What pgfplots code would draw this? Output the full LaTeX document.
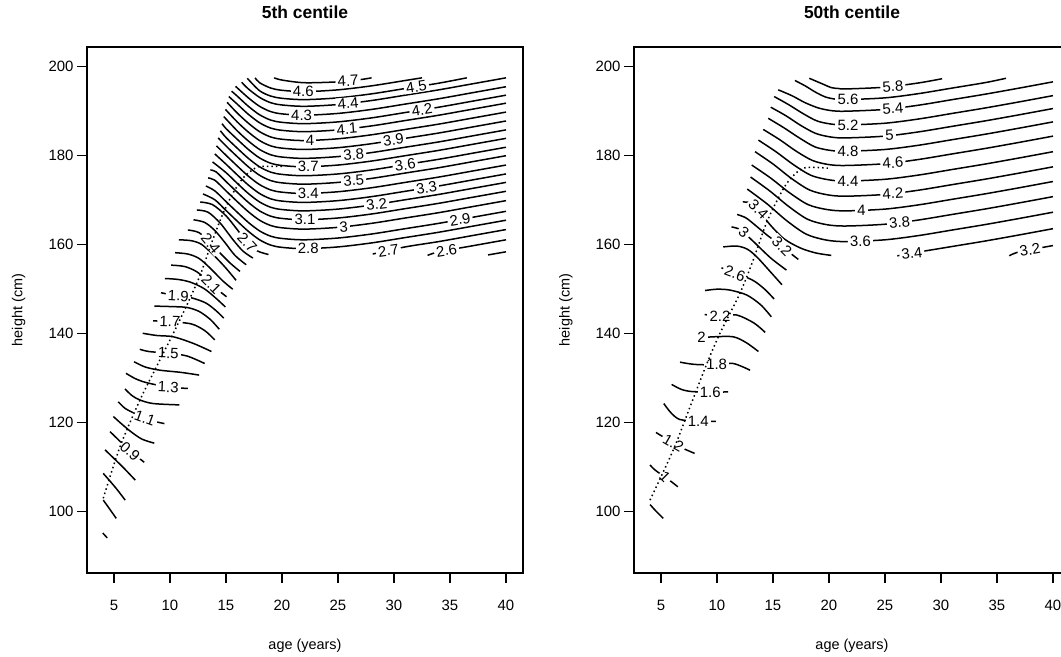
\documentclass[border=0pt]{standalone}
\usepackage{fontspec}
\setmainfont{Liberation Sans}
\usepackage{pgfplots}
\pgfplotsset{compat=1.18}

\pgfplotsset{
  centile/.style={
    scale only axis, width=436bp, height=526bp,
    xmin=2.59, xmax=41.52, ymin=86.22, ymax=204.43,
    xtick={5,10,15,20,25,30,35,40},
    ytick={100,120,140,160,180,200},
    xtick pos=bottom, ytick pos=left,
    tick align=outside,
    major tick length=10bp,
    tick style={black, line width=1.2bp},
    axis line style={line width=1.5bp},
    /pgf/number format/assume math mode=true,
    ticklabel style={font=\fontsize{15}{17}\selectfont},
    xticklabel style={yshift=-14bp},
    title style={at={(axis description cs:0.5,1.0551)}, anchor=center,
      font=\fontsize{17.5}{20}\selectfont\bfseries},
    xlabel={age (years)},
    ylabel={height (cm)},
    xlabel style={at={(axis description cs:0.5,-0.139)}, anchor=center,
      font=\fontsize{14.5}{16}\selectfont},
    ylabel style={at={(axis description cs:-0.157,0.5)}, anchor=center,
      font=\fontsize{14.5}{16}\selectfont},
  },
  cl/.style={black, line width=1.5bp, smooth, tension=0.5},
  dl/.style={black, line width=1.5bp, dash pattern=on 1.5bp off 3bp},
}
\tikzset{clab/.style={font=\fontsize{15}{15}\selectfont, fill=white,
  inner xsep=2.2bp, inner ysep=0.6bp}}
% contour label: x, y, angle, text
\newcommand\clabel[4]{\node[clab, rotate=#3] at (axis cs:#1,#2) {#4};}

\begin{document}
\begin{tikzpicture}
\useasboundingbox (0,0) rectangle (1061bp,657bp);
\clip (0,0) rectangle (1061bp,657bp);

%% ---------------- 5th centile ----------------
\begin{axis}[centile, at={(87bp,84bp)}, anchor=south west, title={5th centile}]
% growth band
\addplot[cl] coordinates {(4.0,95.2) (4.4,94.1)};
\addplot[cl] coordinates {(4.04,102.6) (4.5,101.0) (5.2,98.5)};
\addplot[cl] coordinates {(4.04,108.6) (4.6,107.0) (5.3,104.9) (6.0,102.6)};
\addplot[cl] coordinates {(4.2,113.9) (4.9,112.2) (5.8,110.0) (6.9,107.1)};
\addplot[cl] coordinates {(4.64,118.0) (5.5,115.9) (6.43,113.6) (7.1,112.3) (7.7,111.1)};
\addplot[cl] coordinates {(4.94,121.4) (5.6,119.9) (6.5,118.0) (7.5,116.3) (8.6,115.4)};
\addplot[cl] coordinates {(5.38,124.7) (6.0,123.2) (7.0,121.9) (7.77,121.0) (8.6,120.3) (9.5,119.8)};
\addplot[cl] coordinates {(5.98,127.6) (6.6,126.1) (7.32,125.1) (8.5,124.3) (10.83,124.0)};
\addplot[cl] coordinates {(6.07,131.1) (6.9,129.9) (7.9,129.0) (9.85,128.0) (11.6,127.7)};
\addplot[cl] coordinates {(6.79,133.7) (7.8,132.5) (9.1,131.8) (11.0,131.3) (12.6,130.7)};
\addplot[cl] coordinates {(7.3,136.5) (8.1,136.0) (9.85,135.6) (11.5,135.0) (13.1,133.3)};
\addplot[cl] coordinates {(7.56,140.1) (8.8,139.6) (10.3,139.3) (12.1,137.8) (13.7,136.0)};
\addplot[cl] coordinates {(8.5,142.9) (9.2,142.8) (10.0,142.7) (11.9,142.2) (13.1,140.7) (14.0,138.6)};
\addplot[cl] coordinates {(8.6,146.2) (10.0,146.1) (11.5,145.9) (12.6,145.0) (13.6,143.2) (14.4,141.0)};
\addplot[cl] coordinates {(9.2,149.2) (9.6,149.0) (10.75,148.5) (12.0,148.0) (13.2,146.9) (14.1,145.2) (14.8,143.5)};
\addplot[cl] coordinates {(9.55,152.4) (10.7,152.2) (11.8,151.6) (13.0,150.2) (14.0,148.2) (14.95,146.0)};
\addplot[cl] coordinates {(10.1,155.4) (11.3,155.1) (12.4,153.9) (13.7,151.2) (14.4,149.6) (15.05,148.3)};
\addplot[cl] coordinates {(10.45,158.2) (11.6,157.9) (12.6,156.9) (13.6,154.7) (14.7,151.9) (15.6,150.0)};
\addplot[cl] coordinates {(10.8,161.1) (11.9,160.9) (12.8,160.1) (13.8,157.9) (14.9,155.0) (15.9,152.0)};
\addplot[cl] coordinates {(11.6,163.3) (12.6,162.7) (13.65,160.3) (14.6,157.8) (15.4,155.8) (16.25,154.0)};
\addplot[cl] coordinates {(12.1,165.6) (13.1,165.0) (14.0,163.2) (14.9,160.5) (15.8,157.6) (16.8,155.5)};
\addplot[cl] coordinates {(12.4,167.8) (13.4,167.3) (14.5,164.8) (15.6,161.2) (16.5,158.6) (17.4,157.0)};
\addplot[cl] coordinates {(12.7,169.6) (13.8,169.0) (15.0,166.5) (16.0,163.4) (16.9,160.5) (17.8,158.6) (18.8,157.8)};
% adult region
\addplot[cl] coordinates {(38.4,157.7) (40,158.4)};
\addplot[cl] coordinates {(33.0,157.6) (34,158.4) (37,159.75) (40,161.1)};
\addplot[cl] coordinates {(28.1,157.9) (31,159.5) (34,160.7) (37,162.05) (40,163.4)};
\addplot[cl] coordinates {(12.95,171.4) (14,170.1) (15,167.7) (16,165.3) (17,163.0) (18,161.1) (19,159.9) (20,159.4) (22,159.1) (25,159.5) (28,160.4) (31,161.6) (34,162.8) (37,164.15) (40,165.5)};
\addplot[cl] coordinates {(13.2,173.2) (14,172.1) (15,169.7) (16,167.3) (17,165.0) (18,163.1) (19,161.9) (20,161.4) (22,161.1) (25,161.5) (28,162.4) (31,163.6) (34,164.8) (37,166.15) (40,167.5)};
\addplot[cl] coordinates {(13.4,175.0) (14,174.5) (15,172.1) (16,169.7) (17,167.4) (18,165.5) (19,164.3) (20,163.8) (22,163.5) (25,163.9) (28,164.8) (31,166.0) (34,167.2) (37,168.55) (40,169.9)};
\addplot[cl] coordinates {(13.6,176.8) (14.1,176.4) (15,174.2) (16,171.8) (17,169.5) (18,167.6) (19,166.4) (20,165.9) (22,165.6) (25,166.0) (28,166.9) (31,168.1) (34,169.3) (37,170.65) (40,172.0)};
\addplot[cl] coordinates {(13.8,178.6) (15,176.2) (16,173.8) (17,171.5) (18,169.6) (19,168.4) (20,167.9) (22,167.6) (25,168.0) (28,168.9) (31,170.1) (34,171.3) (37,172.65) (40,174.0)};
\addplot[cl] coordinates {(14.0,180.4) (15,178.1) (16,175.7) (17,173.4) (18,171.5) (19,170.3) (20,169.8) (22,169.5) (25,169.9) (28,170.8) (31,172.0) (34,173.2) (37,174.55) (40,175.9)};
\addplot[cl] coordinates {(14.15,182.2) (15,180.1) (16,177.7) (17,175.4) (18,173.5) (19,172.3) (20,171.8) (22,171.5) (25,171.9) (28,172.8) (31,174.0) (34,175.2) (37,176.55) (40,177.9)};
\addplot[cl] coordinates {(14.3,184.0) (15,182.2) (16,179.8) (17,177.5) (18,175.6) (19,174.4) (20,173.9) (22,173.6) (25,174.0) (28,174.9) (31,176.1) (34,177.3) (37,178.65) (40,180.0)};
\addplot[cl] coordinates {(14.5,185.6) (15,184.1) (16,181.7) (17,179.4) (18,177.5) (19,176.3) (20,175.8) (22,175.5) (25,175.9) (28,176.8) (31,178.0) (34,179.2) (37,180.55) (40,181.9)};
\addplot[cl] coordinates {(14.65,187.2) (15,186.1) (16,183.7) (17,181.4) (18,179.5) (19,178.3) (20,177.8) (22,177.5) (25,177.9) (28,178.8) (31,180.0) (34,181.2) (37,182.55) (40,183.9)};
\addplot[cl] coordinates {(14.8,188.8) (16,185.6) (17,183.3) (18,181.4) (19,180.2) (20,179.7) (22,179.4) (25,179.8) (28,180.7) (31,181.9) (34,183.1) (37,184.45) (40,185.8)};
\addplot[cl] coordinates {(14.95,190.4) (16,187.6) (17,185.3) (18,183.4) (19,182.2) (20,181.7) (22,181.4) (25,181.8) (28,182.7) (31,183.9) (34,185.1) (37,186.45) (40,187.8)};
\addplot[cl] coordinates {(15.1,192.0) (16,189.6) (17,187.3) (18,185.4) (19,184.2) (20,183.7) (22,183.4) (25,183.8) (28,184.7) (31,185.9) (34,187.1) (37,188.45) (40,189.8)};
\addplot[cl] coordinates {(15.25,193.3) (16,191.6) (17,189.3) (18,187.4) (19,186.2) (20,185.7) (22,185.4) (25,185.8) (28,186.7) (31,187.9) (34,189.1) (37,190.45) (40,191.8)};
\addplot[cl] coordinates {(15.5,194.5) (16,193.4) (17,191.1) (18,189.2) (19,188.0) (20,187.5) (22,187.2) (25,187.6) (28,188.5) (31,189.7) (34,190.9) (37,192.25) (40,193.6)};
\addplot[cl] coordinates {(15.85,195.6) (17,193.0) (18,191.1) (19,189.9) (20,189.4) (22,189.1) (25,189.5) (28,190.4) (31,191.6) (34,192.8) (37,194.15) (40,195.5)};
\addplot[cl] coordinates {(16.4,196.5) (17,195.0) (18,193.1) (19,191.9) (20,191.4) (22,191.1) (25,191.5) (28,192.4) (31,193.6) (34,194.8) (37,196.15) (40,197.5)};
\addplot[cl] coordinates {(16.9,197.4) (18,194.6) (19,193.4) (20,192.9) (22,192.6) (25,193.0) (28,193.9) (31,195.1) (34,196.3) (36.5,197.5)};
\addplot[cl] coordinates {(17.6,197.5) (18,196.4) (19,195.2) (20,194.7) (22,194.4) (25,194.8) (28,195.7) (31,196.9) (32.5,197.5)};
\addplot[cl] coordinates {(19.3,197.5) (20,197.0) (22,196.4) (25,196.6) (27,197.1) (28,197.5)};
% labels
\clabel{25.9}{196.8}{3}{4.7}
\clabel{21.9}{194.4}{0}{4.6}
\clabel{32.0}{195.5}{9}{4.5}
\clabel{25.9}{191.8}{5}{4.4}
\clabel{21.75}{189.1}{0}{4.3}
\clabel{32.5}{190.3}{9}{4.2}
\clabel{25.8}{186.0}{5}{4.1}
\clabel{22.5}{183.4}{0}{4}
\clabel{29.95}{183.5}{8}{3.9}
\clabel{26.4}{180.2}{5}{3.8}
\clabel{22.35}{177.5}{0}{3.7}
\clabel{31.0}{178.0}{9}{3.6}
\clabel{26.4}{174.4}{5}{3.5}
\clabel{22.35}{171.5}{0}{3.4}
\clabel{32.9}{172.75}{9}{3.3}
\clabel{28.45}{169.05}{7}{3.2}
\clabel{22.05}{165.6}{0}{3.1}
\clabel{25.5}{164.05}{4}{3}
\clabel{35.9}{165.65}{9}{2.9}
\clabel{22.35}{159.1}{0}{2.8}
\clabel{29.5}{158.7}{8}{2.7}
\clabel{34.7}{158.7}{9}{2.6}
\clabel{16.9}{160.5}{-47}{2.7}
\clabel{13.65}{160.3}{-50}{2.4}
\clabel{13.7}{151.2}{-45}{2.1}
\clabel{10.75}{148.5}{-3}{1.9}
\clabel{10.0}{142.7}{-2}{1.7}
\clabel{9.85}{135.6}{-2}{1.5}
\clabel{9.85}{128.0}{-3}{1.3}
\clabel{7.77}{121.0}{-20}{1.1}
\clabel{6.43}{113.6}{-42}{0.9}
% median path
\addplot[dl, smooth] coordinates {(4.04,103.0) (5.54,114.6) (7.32,125.1) (8.8,132.6) (10.3,140.1) (11.5,146.4) (12.7,153.2) (13.6,159.6) (14.6,166.2) (15.6,171.5) (16.6,175.2) (17.6,177.2) (18.2,177.6) (20.0,177.6)};
\end{axis}

%% ---------------- 50th centile ----------------
\begin{axis}[centile, at={(634bp,84bp)}, anchor=south west, title={50th centile},
  ylabel style={at={(axis description cs:-0.156,0.5)}}]
% growth band
\addplot[cl] coordinates {(4.02,101.6) (4.6,100.0) (5.2,98.5)};
\addplot[cl] coordinates {(4.02,110.5) (4.5,109.3) (5.36,107.8) (6.0,106.6) (6.5,105.6)};
\addplot[cl] coordinates {(4.55,117.8) (5.2,116.8) (6.1,115.4) (7.0,114.2) (8.0,113.1)};
\addplot[cl] coordinates {(5.25,124.3) (5.9,122.2) (6.7,120.7) (8.33,120.4) (9.9,120.3)};
\addplot[cl] coordinates {(5.95,128.6) (6.8,127.5) (7.74,127.0) (9.4,126.9) (11.0,126.9)};
\addplot[cl] coordinates {(6.7,133.6) (8.0,133.1) (9.97,133.0) (11.45,133.3) (12.95,131.8)};
\addplot[cl] coordinates {(8.2,139.2) (8.63,139.1) (9.67,139.3) (11.45,139.3) (12.6,138.0) (13.7,136.0)};
\addplot[cl] coordinates {(8.9,144.3) (10.27,144.0) (11.76,144.2) (13.3,142.4) (14.3,140.3)};
\addplot[cl] coordinates {(8.93,149.7) (10.0,150.0) (11.16,149.8) (12.65,148.7) (13.9,146.5) (14.85,143.8)};
\addplot[cl] coordinates {(10.4,154.8) (10.9,154.3) (11.6,153.5) (12.5,152.8) (13.4,151.7) (14.3,149.9) (15.1,147.8)};
\addplot[cl] coordinates {(10.56,159.5) (11.76,159.7) (12.7,159.0) (13.54,157.3) (14.7,154.1) (15.8,151.0)};
\addplot[cl] coordinates {(11.3,164.0) (11.9,163.6) (12.4,162.7) (13.3,160.6) (14.8,157.0) (16.2,154.3)};
\addplot[cl] coordinates {(11.8,166.8) (12.6,166.0) (13.5,164.2) (14.6,161.9) (15.8,159.7) (16.6,158.0) (17.26,156.7)};
\addplot[cl] coordinates {(12.3,169.6) (13.0,169.4) (13.7,167.9) (14.7,164.6) (16.0,161.3) (17.5,159.2) (18.9,158.1) (20.2,157.6)};
% adult region
\addplot[cl] coordinates {(36.1,157.5) (37,158.4) (40,159.8)};
\addplot[cl] coordinates {(26.1,157.5) (28,158.35) (31,159.6) (34,160.85) (37,162.2) (40,163.6)};
\addplot[cl] coordinates {(12.7,172.5) (14.46,169.2) (16.22,165.4) (17.98,162.35) (19.74,161.05) (21.5,160.7) (25,161.1) (28,162.05) (31,163.3) (34,164.55) (37,165.9) (40,167.3)};
\addplot[cl] coordinates {(13.0,175.2) (14.7,172.1) (16.4,168.6) (18.1,165.7) (19.8,164.5) (21.5,164.2) (25,164.6) (28,165.55) (31,166.8) (34,168.05) (37,169.4) (40,170.8)};
\addplot[cl] coordinates {(13.1,177.9) (14.78,175.0) (16.46,171.7) (18.14,169.0) (19.82,167.9) (21.5,167.6) (25,168.0) (28,168.95) (31,170.2) (34,171.45) (37,172.8) (40,174.2)};
\addplot[cl] coordinates {(13.4,180.9) (15.02,178.1) (16.64,174.9) (18.26,172.3) (19.88,171.2) (21.5,170.9) (25,171.3) (28,172.25) (31,173.5) (34,174.75) (37,176.1) (40,177.5)};
\addplot[cl] coordinates {(13.7,183.5) (15.26,180.9) (16.82,178.0) (18.38,175.6) (19.94,174.6) (21.5,174.3) (25,174.7) (28,175.65) (31,176.9) (34,178.15) (37,179.5) (40,180.9)};
\addplot[cl] coordinates {(14.13,185.9) (15.6,183.6) (17.08,181.0) (18.55,178.9) (20.0,178.0) (21.5,177.8) (25,178.2) (28,179.15) (31,180.4) (34,181.65) (37,183.0) (40,184.4)};
\addplot[cl] coordinates {(14.58,188.4) (15.96,186.3) (17.35,184.0) (18.73,182.0) (20.1,181.2) (21.5,181.0) (25,181.4) (28,182.35) (31,183.6) (34,184.85) (37,186.2) (40,187.6)};
\addplot[cl] coordinates {(14.8,190.9) (16.14,189.0) (17.48,186.8) (18.82,185.0) (20.16,184.2) (21.5,184.0) (25,184.4) (28,185.35) (31,186.6) (34,187.85) (37,189.2) (40,190.6)};
\addplot[cl] coordinates {(15.1,193.3) (16.38,191.5) (17.66,189.5) (18.94,187.8) (20.22,187.1) (21.5,186.9) (25,187.3) (28,188.25) (31,189.5) (34,190.75) (37,192.1) (40,193.5)};
\addplot[cl] coordinates {(15.47,194.8) (16.68,193.5) (17.88,191.9) (19.09,190.7) (20.3,190.1) (21.5,190.0) (25,190.4) (28,191.35) (31,192.6) (34,193.85) (37,195.2) (40,196.6)};
\addplot[cl] coordinates {(16.96,196.9) (17.87,195.7) (18.78,194.3) (19.68,193.2) (20.6,192.7) (21.5,192.6) (25,193.0) (28,193.95) (31,195.2) (34,196.45) (35.8,197.4)};
\addplot[cl] coordinates {(18.24,197.4) (18.89,196.7) (19.54,196.0) (20.2,195.3) (20.85,195.1) (21.5,195.0) (25,195.4) (28,196.35) (30.1,197.3)};
% labels
\clabel{25.7}{195.6}{4}{5.8}
\clabel{21.7}{192.6}{0}{5.6}
\clabel{25.7}{190.6}{4}{5.4}
\clabel{21.7}{186.9}{0}{5.2}
\clabel{25.4}{184.5}{3}{5}
\clabel{21.7}{181.0}{0}{4.8}
\clabel{25.7}{178.4}{4}{4.6}
\clabel{21.7}{174.3}{0}{4.4}
\clabel{25.7}{171.5}{4}{4.2}
\clabel{22.9}{167.7}{1}{4}
\clabel{26.3}{165.0}{5}{3.8}
\clabel{22.8}{160.8}{1}{3.6}
\clabel{27.4}{158.1}{7}{3.4}
\clabel{37.95}{158.85}{10}{3.2}
\clabel{13.7}{167.9}{-45}{3.4}
\clabel{12.4}{162.7}{-40}{3}
\clabel{15.8}{159.7}{-45}{3.2}
\clabel{11.6}{153.5}{-20}{2.6}
\clabel{10.27}{144.0}{0}{2.2}
\clabel{8.63}{139.1}{0}{2}
\clabel{9.97}{133.0}{0}{1.8}
\clabel{9.4}{126.9}{0}{1.6}
\clabel{8.33}{120.4}{0}{1.4}
\clabel{6.1}{115.4}{-30}{1.2}
\clabel{5.36}{107.8}{-45}{1}
% median path
\addplot[dl, smooth] coordinates {(4.02,102.6) (6.1,113.9) (7.6,123.6) (9.1,133.3) (10.27,140.1) (12.05,149.1) (13.24,156.6) (14.4,164.8) (15.5,170.6) (16.36,174.2) (17.7,177.2) (19.9,177.2)};
\end{axis}
\end{tikzpicture}
\end{document}
